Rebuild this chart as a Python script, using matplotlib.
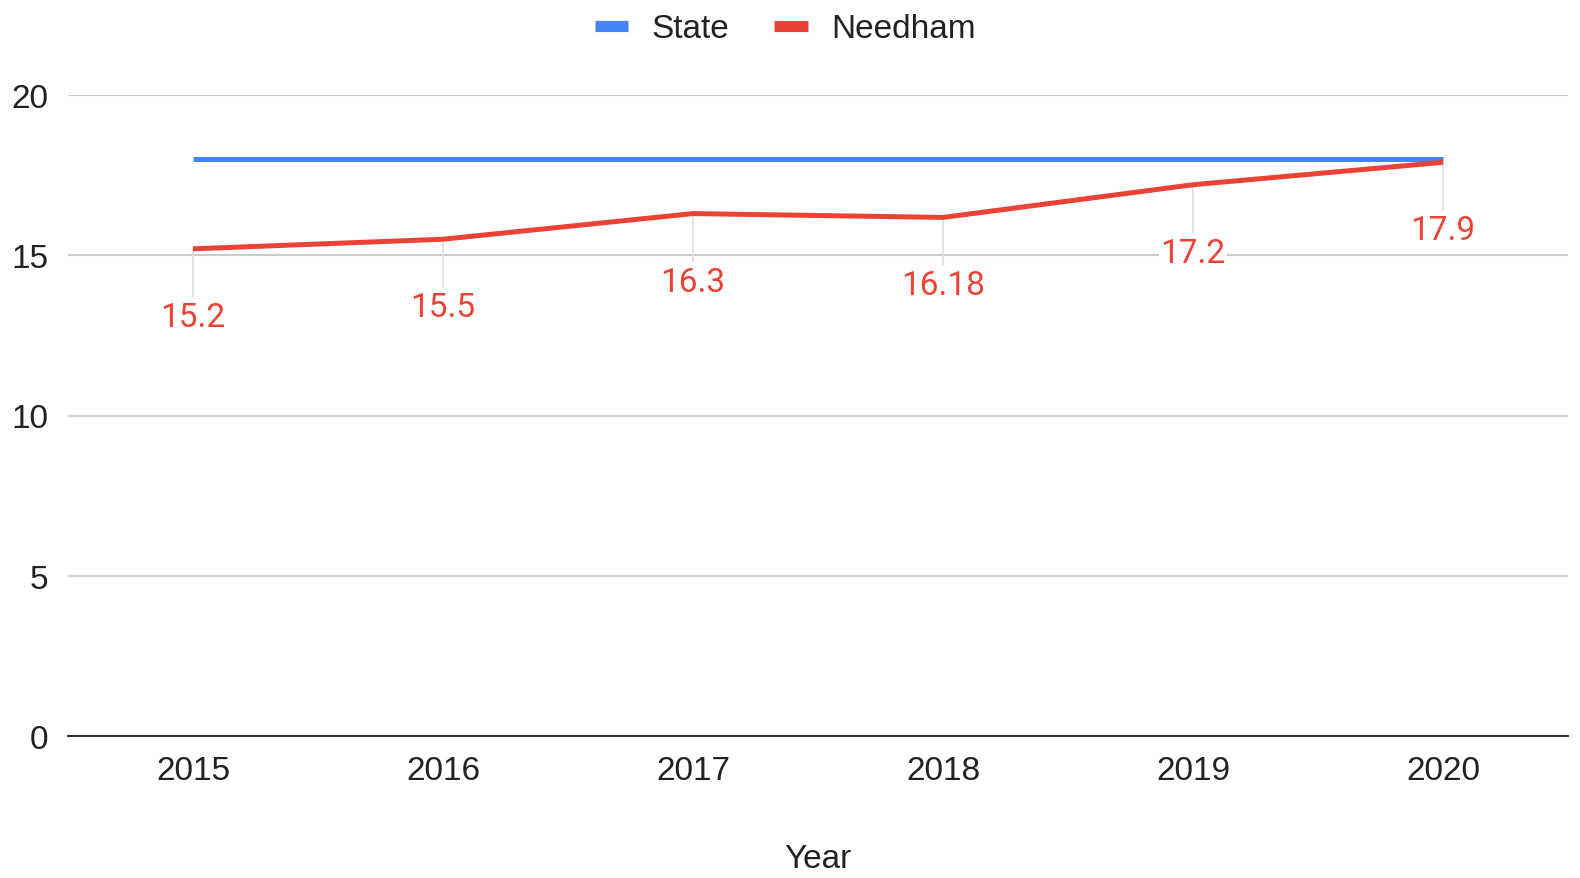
import matplotlib
matplotlib.use("Agg")
import matplotlib.pyplot as plt
from matplotlib.lines import Line2D

years = ["2015", "2016", "2017", "2018", "2019", "2020"]
state = [18.0, 18.0, 18.0, 18.0, 18.0, 18.0]
needham = [15.2, 15.5, 16.3, 16.18, 17.2, 17.9]
needham_labels = ["15.2", "15.5", "16.3", "16.18", "17.2", "17.9"]
yticks = [0, 5, 10, 15, 20]

blue = "#4285f4"
red = "#ea4335"
fs = 24

plt.rcParams['font.family'] = ['Liberation Sans', 'DejaVu Sans']
fig = plt.figure(figsize=(15.8, 8.79), dpi=100)
ax = fig.add_axes([68/1580, 1-737/879, 1500/1580, (737-96)/879])

x = list(range(len(years)))
ax.plot(x, state, color=blue, lw=3.6, solid_capstyle='butt', zorder=3, label="State")
ax.plot(x, needham, color=red, lw=3.6, solid_capstyle='butt', zorder=4, label="Needham")

for xi, v, lab in zip(x, needham, needham_labels):
    ax.annotate(lab, xy=(xi, v), xytext=(0, -49), textcoords='offset points',
                ha='center', va='center', fontsize=fs, color=red, family='Roboto',
                bbox=dict(boxstyle='square,pad=0.05', fc='white', ec='none'),
                arrowprops=dict(arrowstyle='-', color='#dddddd', lw=1.2,
                                shrinkA=2, shrinkB=0),
                zorder=2)

ax.set_xlim(-0.5, len(years) - 0.5)
ax.set_ylim(0, 20)
ax.set_yticks(yticks)
ax.set_yticklabels([str(t) for t in yticks])
ax.set_xticks(x)
ax.set_xticklabels(years)
ax.grid(axis='y', color='#cccccc', lw=1.5, zorder=0)
ax.set_axisbelow(True)
for s in ['top', 'right', 'left']:
    ax.spines[s].set_visible(False)
ax.spines['bottom'].set_color('#333333')
ax.spines['bottom'].set_linewidth(1.5)
ax.tick_params(axis='both', length=0, labelsize=fs, colors='#222222')
ax.tick_params(axis='y', pad=14)
ax.tick_params(axis='x', pad=14)
ax.set_xlabel("Year", fontsize=fs, color='#222222', labelpad=41)

handles = [Line2D([], [], color=blue, lw=8, solid_capstyle='butt'),
           Line2D([], [], color=red, lw=8, solid_capstyle='butt')]
fig.legend(handles, ["State", "Needham"], loc='upper center', bbox_to_anchor=(0.497, 1.018),
           ncol=2, frameon=False, fontsize=fs, handlelength=1.0, handletextpad=0.7,
           columnspacing=1.35, labelcolor='#222222')

fig.savefig("out.png", dpi=100, facecolor='white')
